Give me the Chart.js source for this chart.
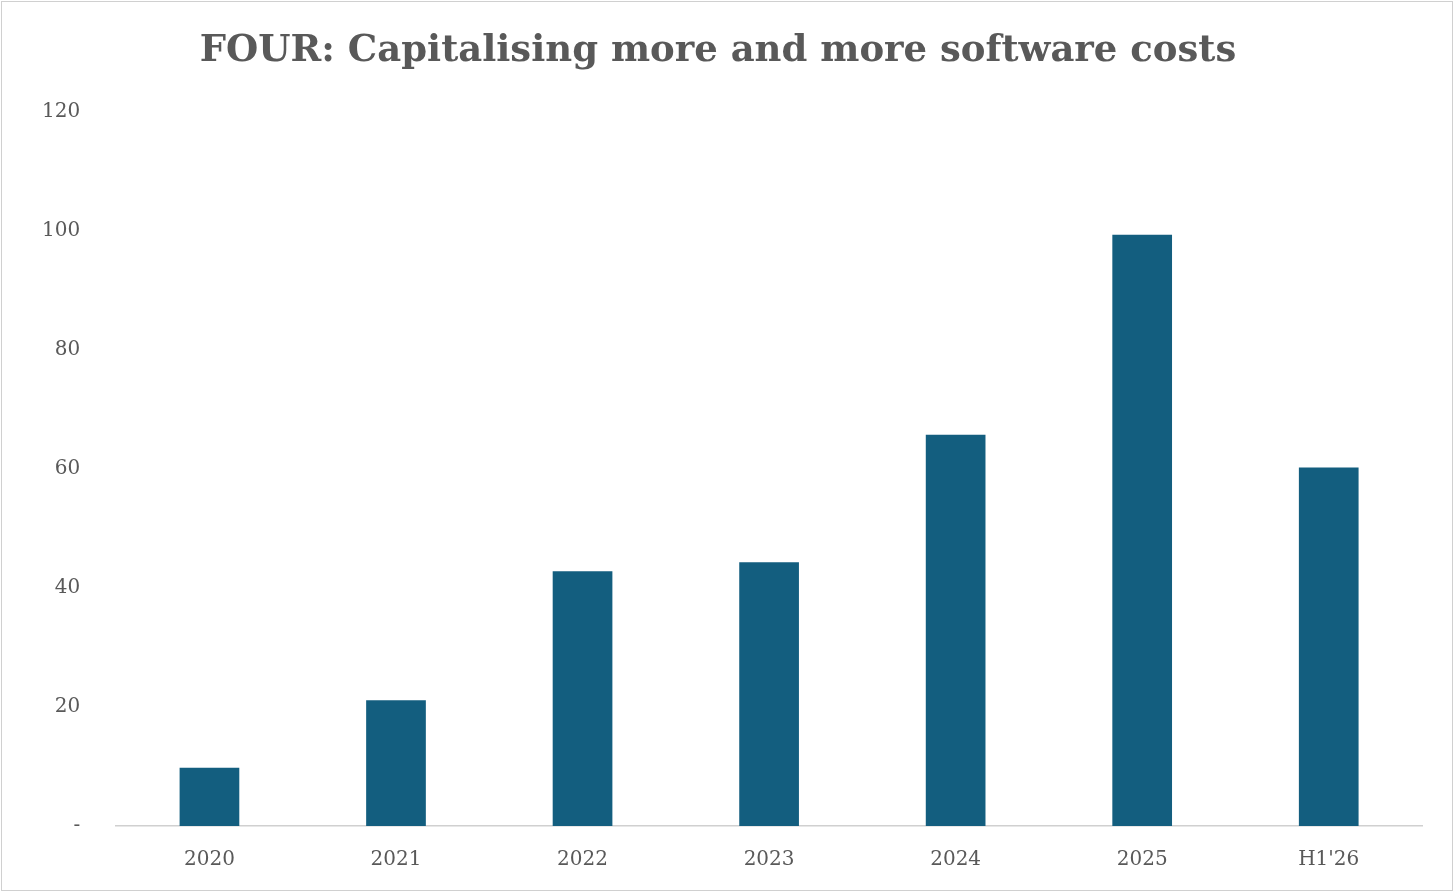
<!DOCTYPE html>
<html>
<head>
<meta charset="utf-8">
<script src="https://cdn.jsdelivr.net/npm/chart.js@4/dist/chart.umd.min.js"></script>
<style>
  html, body { margin:0; padding:0; background:#fff; }
  #wrap { position:absolute; left:1px; top:1px; width:1452px; height:890px; border:1px solid #d0d0d0; box-sizing:border-box; }
  canvas { display:block; }
</style>
</head>
<body>
<div id="wrap"><canvas id="c"></canvas></div>
<script>
var categories = ['2020', '2021', '2022', '2023', '2024', '2025', "H1'26"];
var capitalisedCosts = [9.8, 21.1, 42.8, 44.3, 65.7, 99.3, 60.2];
var yTicks = [0, 20, 40, 60, 80, 100, 120];

var ctx = document.getElementById('c').getContext('2d');
new Chart(ctx, {
  type: 'bar',
  data: {
    labels: categories,
    datasets: [{ label: 'Capitalised software costs', data: capitalisedCosts, backgroundColor: '#135E7F', categoryPercentage: 1, barPercentage: 0.32 }]
  },
  options: {
    responsive: true, maintainAspectRatio: false, animation: false,
    layout: { padding: { left: 12, right: 30, top: 10, bottom: 4 } },
    plugins: {
      legend: { display: false },
      tooltip: { enabled: false },
      title: { display: true, text: 'FOUR: Capitalising more and more software costs', color: '#595959',
        font: { family: 'DejaVu Serif', size: 37, weight: 'bold' }, padding: { top: 17, bottom: 38 } }
    },
    scales: {
      y: {
        min: 0, max: 120,
        afterBuildTicks: function(axis) { axis.ticks = yTicks.map(function(v) { return { value: v }; }); },
        grid: { display: false }, border: { display: false },
        ticks: { color: '#595959', padding: 28, font: { family: 'DejaVu Serif', size: 20 },
          callback: function(v) { return v === 0 ? '-' : v; } }
      },
      x: {
        grid: { display: false }, border: { color: '#d0d0d0', width: 1.5 },
        ticks: { color: '#595959', padding: 14, font: { family: 'DejaVu Serif', size: 20 } }
      }
    }
  }
});
</script>
</body>
</html>
